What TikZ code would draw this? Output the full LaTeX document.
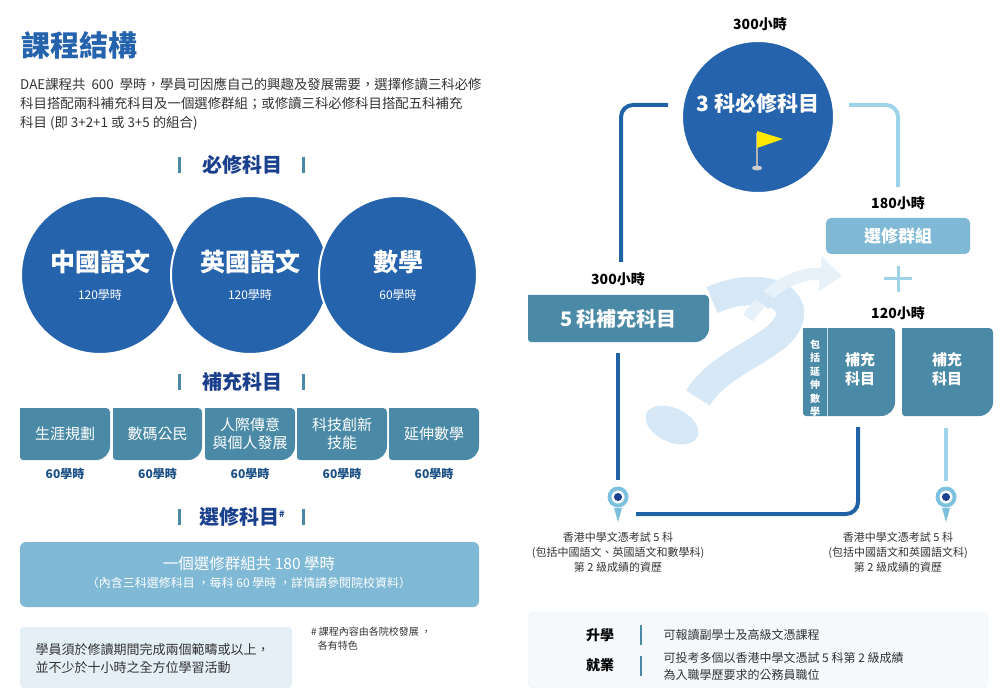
\documentclass[tikz,border=0pt]{standalone}
\usepackage{fontspec}
\setmainfont{Noto Sans CJK TC}
\usetikzlibrary{arrows.meta}
\definecolor{navy}{HTML}{1A3F8C}
\definecolor{cblue}{HTML}{2563AD}
\definecolor{teal}{HTML}{4A8AA6}
\definecolor{lblue}{HTML}{7FB9D6}
\definecolor{sky}{HTML}{9DD4EA}
\definecolor{dline}{HTML}{1F63A6}
\definecolor{txt}{HTML}{333333}
\definecolor{qm}{HTML}{D6E8F5}
\definecolor{qm2}{HTML}{E6F1FA}
\definecolor{pale}{HTML}{E4EFF6}
\definecolor{pinc}{HTML}{7CC0DD}
\definecolor{boxbg}{HTML}{F6F9FC}
\definecolor{boxln}{HTML}{EBF0F5}
\tikzset{
 hd/.style={font=\fontsize{20}{22}\selectfont\bfseries,text=navy},
 bar/.style={draw=teal,line width=3pt},
 circ/.style={circle,fill=cblue,draw=white,line width=2pt,minimum size=158pt,inner sep=0},
 wt/.style={text=white,align=center},
 hrs/.style={font=\fontsize{12}{14}\selectfont\bfseries,text=dline!80!black},
 hr/.style={font=\fontsize{14}{16}\selectfont\bfseries,text=black},
 small/.style={font=\fontsize{11}{15}\selectfont,text=txt,align=center},
 dl/.style={draw=dline,line width=4pt,rounded corners=12pt},
 ll/.style={draw=sky,line width=4pt,rounded corners=12pt},
}
\newcommand{\tbox}[5]{% x1 y1 x2 y2 name
 \fill[teal] (#1,#2) -- (#3-4,#2) to[out=0,in=90] (#3,#2+4) -- (#3,#4-14) to[out=-90,in=0] (#3-14,#4) -- (#1+3,#4) to[out=180,in=-90] (#1,#4-3) -- cycle;
 \coordinate (#5) at ({(#1+#3)/2},{(#2+#4)/2});}
\begin{document}
\begin{tikzpicture}[x=1pt,y=-1pt]
\useasboundingbox (0,0) rectangle (1000,692);
% ---------- left ----------
\node[anchor=west,font=\fontsize{29}{31}\selectfont\bfseries,text=cblue] (title) at (18,45) {課程結構};
\node[anchor=north west,align=left,font=\fontsize{13.4}{19}\selectfont,text=txt,inner sep=0] (para) at (20,78) {DAE課程共\ \ 600\ \ 學時，學員可因應自己的興趣及發展需要，選擇修讀三科必修\\科目搭配兩科補充科目及一個選修群組；或修讀三科必修科目搭配五科補充\\科目 (即 3+2+1 或 3+5 的組合)};
\node[hd] (h1) at (242,165) {必修科目};
\draw[bar] (179,157) -- (179,173); \draw[bar] (303,157) -- (303,173);
\foreach \x/\n/\t/\h in {100/c1/中國語文/120學時,250/c2/英國語文/120學時,398/c3/數學/60學時}{
 \node[circ] (\n) at (\x,275) {};
 \node[wt,font=\fontsize{25}{27}\selectfont\bfseries] at (\x,262) {\t};
 \node[wt,font=\fontsize{12}{14}\selectfont] at (\x,295) {\h};
}
\node[hd] (h2) at (242,382) {補充科目};
\draw[bar] (179,374) -- (179,390); \draw[bar] (303,374) -- (303,390);
\tbox{20}{408}{110}{460}{s1}\tbox{113}{408}{202}{460}{s2}\tbox{205}{408}{295}{460}{s3}\tbox{297}{408}{387}{460}{s4}\tbox{389}{408}{479}{460}{s5}
\foreach \n/\t in {s1/生涯規劃,s2/數碼公民,s3/{人際傳意\\與個人發展},s4/{科技創新\\技能},s5/延伸數學}{
 \node[wt,font=\fontsize{15}{18}\selectfont] at (\n) {\t};
 \node[hrs] at ([yshift=-40pt]\n) {60學時};
}
\node[hd] (h3) at (242,517) {選修科目\textsuperscript{\fontsize{9}{9}\selectfont\#}};
\draw[bar] (179,509) -- (179,525); \draw[bar] (303,509) -- (303,525);
\fill[lblue,rounded corners=6pt] (20,542) rectangle (479,607);
\node[wt,font=\fontsize{15.5}{17}\selectfont] (el) at (249,564) {一個選修群組共 180 學時};
\node[wt,font=\fontsize{12}{13}\selectfont] (el2) at (249,583) {（內含三科選修科目 ，每科 60 學時 ，詳情請參閱院校資料）};
\fill[pale,rounded corners=4pt] (20,627) rectangle (292,688);
\node[anchor=west,align=left,font=\fontsize{13}{18}\selectfont,text=txt] (act) at (32,659) {學員須於修讀期間完成兩個範疇或以上，\\並不少於十小時之全方位學習活動};
\node[anchor=north west,align=left,font=\fontsize{10}{14}\selectfont,text=txt,inner sep=0] (note) at (311,627) {\# 課程內容由各院校發展 ，\\\ \ \ 各有特色};
% ---------- right ----------
% question mark background (drawn as shapes)
\draw[qm,line width=28pt] (712,300) .. controls (770,275) and (815,305) .. (775,338) .. controls (745,360) and (715,370) .. (698,398);
\fill[qm,rotate around={-25:(672,425)}] (672,425) ellipse (28pt and 17pt);
\draw[qm2,line width=12pt,-{Triangle[length=22pt,width=34pt]}] (748,318) .. controls (770,285) and (800,272) .. (842,276);
\draw[qm,line width=11pt,-{Triangle[length=20pt,width=30pt]}] (772,305) .. controls (760,292) and (745,290) .. (722,300);
\draw[dl] (668,105) -- (621,105) -- (621,262);
\draw[ll] (849,105) -- (898,105) -- (898,187);
\node[hr] (t300) at (760,24) {300小時};
\node[circ,minimum size=152pt] (core) at (758,117) {};
\node[wt,font=\fontsize{21}{23}\selectfont\bfseries] at (758,103) {3 科必修科目};
\draw[gray!60,line width=1.5pt] (757,166) -- (757,133);
\fill[gray!40] (757,168) ellipse (5pt and 2.5pt);
\fill[yellow!90!orange] (757,131) -- (783,139) -- (757,148) -- cycle;
\node[hr] (t180) at (898,203) {180小時};
\fill[lblue,rounded corners=5pt] (826,218) rectangle (970,254);
\node[wt,font=\fontsize{17}{19}\selectfont\bfseries] (grp) at (898,236) {選修群組};
\draw[sky,line width=3pt] (898,266) -- (898,292) (884,279) -- (912,279);
\node[hr] (t300b) at (618,279) {300小時};
\tbox{528}{295}{709}{342}{five}
\node[wt,font=\fontsize{20}{22}\selectfont\bfseries] at (five) {5 科補充科目};
\node[hr] (t120) at (898,313) {120小時};
\tbox{803}{328}{895}{416}{b1}\tbox{902}{328}{993}{416}{b2}
\draw[white!70!teal,line width=1pt] (827,328) -- (827,416);
\foreach \c [count=\i] in {包,括,延,伸,數,學}
 \node[wt,font=\fontsize{10}{10}\selectfont\bfseries,inner sep=0] at (815,331+13.5*\i) {\c};
\node[wt,font=\fontsize{15}{19}\selectfont\bfseries] at (860,369) {補充\\科目};
\node[wt,font=\fontsize{15}{19}\selectfont\bfseries] at (947,369) {補充\\科目};
\draw[dl] (618,353) -- (618,480);
\draw[dl] (858,427) -- (858,514) -- (636,514);
\draw[ll] (946,428) -- (946,481);
\foreach \x/\n in {618/p1,946/p2}{
 \fill[pinc] (\x-4,508) -- (\x+4,508) -- (\x,522) -- cycle;
 \node[circle,fill=pinc,minimum size=21pt,inner sep=0] (\n) at (\x,497) {};
 \fill[white] (\x,497) circle (6.5pt);
 \fill[navy] (\x,497) circle (4pt);
}
\node[small] (r1) at (618,552) {香港中學文憑考試 5 科\\(包括中國語文、英國語文和數學科)\\第 2 級成績的資歷};
\node[small] (r2) at (898,552) {香港中學文憑考試 5 科\\(包括中國語文和英國語文科)\\第 2 級成績的資歷};
\fill[boxbg,draw=boxln,rounded corners=6pt] (528,612) rectangle (988,688);
\node[font=\fontsize{14}{16}\selectfont\bfseries] (k1) at (600,635) {升學};
\node[font=\fontsize{14}{16}\selectfont\bfseries] (k2) at (600,665) {就業};
\draw[teal,line width=1.2pt] (641,625) -- (641,645) (641,656) -- (641,676);
\node[anchor=west,font=\fontsize{12}{14}\selectfont,text=txt] (v1) at (660,635) {可報讀副學士及高級文憑課程};
\node[anchor=west,align=left,font=\fontsize{12}{17}\selectfont,text=txt] (v2) at (660,666) {可投考多個以香港中學文憑試 5 科第 2 級成績\\為入職學歷要求的公務員職位};
\end{tikzpicture}
\end{document}
